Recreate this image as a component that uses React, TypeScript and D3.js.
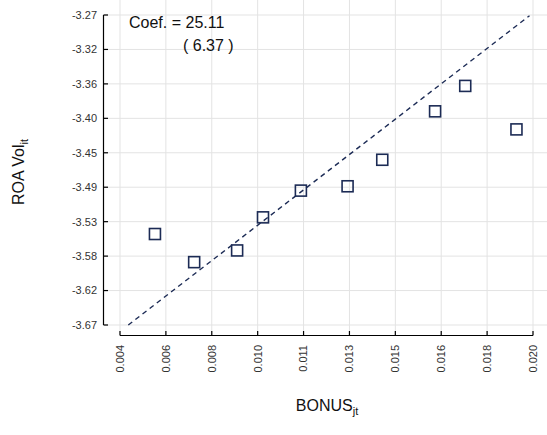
import React from 'react';
import * as d3 from 'd3';

// binned points
const bonus = [0.00571, 0.00718, 0.00879, 0.00976, 0.01118, 0.01293, 0.01423, 0.01621, 0.01734, 0.01926];
const roaVol = [-3.5526, -3.5889, -3.5738, -3.5311, -3.4966, -3.491, -3.4568, -3.3943, -3.3615, -3.4176];

// fitted line end points
const fitX = [0.00471, 0.01975];
const fitY = [-3.67, -3.2709];

const xTickLabels = ['0.004', '0.006', '0.008', '0.010', '0.011', '0.013', '0.015', '0.016', '0.018', '0.020'];
const yTickLabels = ['-3.27', '-3.32', '-3.36', '-3.40', '-3.45', '-3.49', '-3.53', '-3.58', '-3.62', '-3.67'];
const xDomain = [0.0044, 0.01988];
const yDomain = [-3.67, -3.27];

const coefText = 'Coef. = 25.11';
const seText = '( 6.37 )';

const W = 547;
const H = 435;
const font = 'Arial, "Liberation Sans", sans-serif';
const navy = '#1c2b55';

export default function App() {
  const x = d3.scaleLinear().domain(xDomain).range([120, 533]);
  const y = d3.scaleLinear().domain(yDomain).range([325, 15]);

  const n = xTickLabels.length;
  const xTicks = xTickLabels.map((l, i) => ({ l, v: xDomain[0] + (i * (xDomain[1] - xDomain[0])) / (n - 1) }));
  const yTicks = yTickLabels.map((l, i) => ({ l, v: yDomain[1] - (i * (yDomain[1] - yDomain[0])) / (yTickLabels.length - 1) }));

  const line = d3.line<number>().x((d, i) => x(fitX[i])).y((d, i) => y(fitY[i]));

  return (
    <svg width={W} height={H} style={{ position: 'absolute', left: 0, top: 0, background: '#fff' }}>
      <rect width={W} height={H} fill="#fff" />
      {/* grid */}
      {yTicks.map(t => (
        <line key={'gy' + t.l} x1={104} x2={W} y1={y(t.v)} y2={y(t.v)} stroke="#e3e3e3" strokeWidth={1} />
      ))}
      {xTicks.map(t => (
        <line key={'gx' + t.l} x1={x(t.v)} x2={x(t.v)} y1={0} y2={335} stroke="#e3e3e3" strokeWidth={1} />
      ))}

      {/* y axis */}
      <line x1={103.5} x2={103.5} y1={y(yDomain[1])} y2={y(yDomain[0])} stroke="#000" strokeWidth={1.2} />
      {yTicks.map(t => (
        <g key={'ty' + t.l}>
          <line x1={103.5} x2={108} y1={y(t.v)} y2={y(t.v)} stroke="#000" strokeWidth={1.2} />
          <text x={97} y={y(t.v)} dy="0.35em" textAnchor="end" fontSize={11} fontFamily={font} fill="#333">{t.l}</text>
        </g>
      ))}

      {/* x axis */}
      <line x1={x(xDomain[0])} x2={x(xDomain[1])} y1={335.5} y2={335.5} stroke="#000" strokeWidth={1.2} />
      {xTicks.map(t => (
        <g key={'tx' + t.l}>
          <line x1={x(t.v)} x2={x(t.v)} y1={335.5} y2={331} stroke="#000" strokeWidth={1.2} />
          <text transform={`translate(${x(t.v)},345) rotate(-90)`} dy="0.35em" textAnchor="end" fontSize={11} fontFamily={font} fill="#333">{t.l}</text>
        </g>
      ))}

      {/* fit line */}
      <path d={line(fitX) || ''} fill="none" stroke={navy} strokeWidth={1.4} strokeDasharray="5,4" />

      {/* points */}
      {bonus.map((b, i) => (
        <rect key={'p' + i} x={x(b) - 5.5} y={y(roaVol[i]) - 5.5} width={11} height={11} fill="none" stroke={navy} strokeWidth={1.6} />
      ))}

      {/* annotation */}
      <text x={129} y={28} fontSize={16} fontFamily={font} fill="#111">{coefText}</text>
      <text x={183} y={51} fontSize={16} fontFamily={font} fill="#111">{seText}</text>

      {/* axis titles */}
      <text transform="translate(24,172) rotate(-90)" textAnchor="middle" fontSize={16} fontFamily={font} fill="#111">
        ROA Vol<tspan fontSize={11} dy={4}>it</tspan>
      </text>
      <text x={327} y={411} textAnchor="middle" fontSize={16} fontFamily={font} fill="#111">
        BONUS<tspan fontSize={11} dy={4}>jt</tspan>
      </text>
    </svg>
  );
}
